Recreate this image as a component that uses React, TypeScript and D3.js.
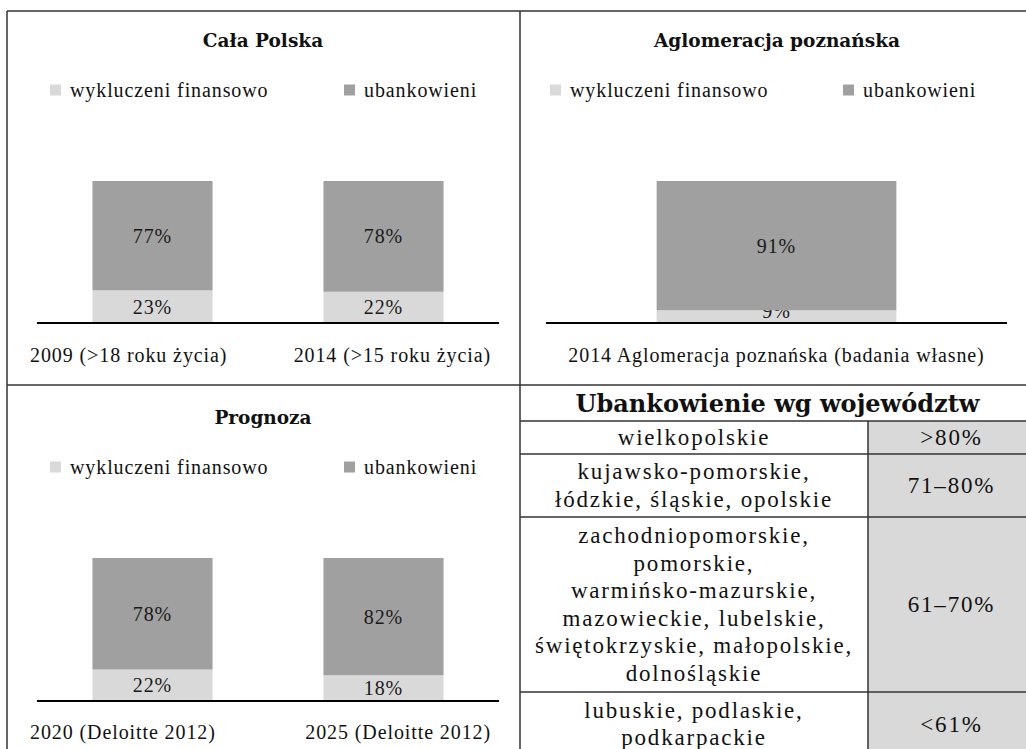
import * as d3 from 'd3'

// series
const seriesNames = ['wykluczeni finansowo', 'ubankowieni']
const seriesColors = ['#d9d9d9', '#a0a0a0']

// Cała Polska
const polskaCategories = ['2009 (>18 roku życia)', '2014 (>15 roku życia)']
const polskaExcluded = [23, 22]
const polskaBanked = [77, 78]

// Aglomeracja poznańska
const poznanCategories = ['2014 Aglomeracja poznańska (badania własne)']
const poznanExcluded = [9]
const poznanBanked = [91]

// Prognoza
const prognozaCategories = ['2020 (Deloitte 2012)', '2025 (Deloitte 2012)']
const prognozaExcluded = [22, 18]
const prognozaBanked = [78, 82]

// table
const tableTitle = 'Ubankowienie wg województw'
const regionLines = [
  ['wielkopolskie'],
  ['kujawsko-pomorskie,', 'łódzkie, śląskie, opolskie'],
  ['zachodniopomorskie,', 'pomorskie,', 'warmińsko-mazurskie,', 'mazowieckie, lubelskie,', 'świętokrzyskie, małopolskie,', 'dolnośląskie'],
  ['lubuskie, podlaskie,', 'podkarpackie'],
]
const regionRanges = ['>80%', '71–80%', '61–70%', '<61%']

const FONT = '"Liberation Serif", serif'
const FONT_BOLD = '"DejaVu Serif", serif'
const W = 1026
const H = 749

interface PanelProps {
  title: string
  categories: string[]
  excluded: number[]
  banked: number[]
  cx: number
  titleY: number
  legendY: number
  legend: [number, number]
  top: number
  base: number
  axis: [number, number]
  labelY: number
}

const txt = { fontFamily: FONT, fontSize: 20, letterSpacing: 0.9, fill: '#111' }

function BarPanel(p: PanelProps) {
  const x = d3.scaleBand<string>()
    .domain(p.categories)
    .range(p.axis)
    .paddingInner(0.48)
    .paddingOuter(0.24)
  const y = d3.scaleLinear().domain([0, 100]).range([p.base, p.top])

  const rows = p.categories.map((c, i) => ({ cat: c, excluded: p.excluded[i], banked: p.banked[i] }))
  const stack = d3.stack<any>().keys(['excluded', 'banked'])(rows)

  const n = p.categories.length
  return (
    <g>
      <text x={p.cx} y={p.titleY} textAnchor="middle" dominantBaseline="central"
        fontFamily={FONT_BOLD} fontWeight="bold" fontSize={18.5} fill="#111">{p.title}</text>
      {seriesNames.map((s, i) => (
        <g key={s} transform={`translate(${p.legend[i]},${p.legendY})`}>
          <rect x={0} y={-5.5} width={11} height={11} fill={seriesColors[i]} />
          <text x={20} y={0} dominantBaseline="central" {...txt}>{s}</text>
        </g>
      ))}
      {stack.map((layer, li) => (
        <g key={layer.key}>
          {layer.map((d, i) => {
            const x0 = x(d.data.cat) as number
            const y0 = y(d[0])
            const y1 = y(d[1])
            const cy = Math.min((y0 + y1) / 2, p.base - 12)
            return (
              <g key={i}>
                <rect x={x0} y={y1} width={x.bandwidth()} height={y0 - y1} fill={seriesColors[li]} />
                <text x={x0 + x.bandwidth() / 2} y={cy} textAnchor="middle" dominantBaseline="central"
                  {...txt} fill="#1a1a1a">{`${d[1] - d[0]}%`}</text>
              </g>
            )
          })}
        </g>
      ))}
      <line x1={p.axis[0]} x2={p.axis[1]} y1={p.base} y2={p.base} stroke="#000" strokeWidth={2.2} />
      {p.categories.map((c, i) => {
        let anchor = 'middle'
        let tx = (x(c) as number) + x.bandwidth() / 2
        if (n > 1 && i === 0) { anchor = 'start'; tx = p.axis[0] - 7 }
        if (n > 1 && i === n - 1) { anchor = 'end'; tx = p.axis[1] - 8 }
        return (
          <text key={c} x={tx} y={p.labelY} textAnchor={anchor} dominantBaseline="central" {...txt}>{c}</text>
        )
      })}
    </g>
  )
}

function RegionTable() {
  const left = 520
  const mid = 868
  const right = 1035
  const rowEdges = [421, 454, 517, 692, 762]
  const lineH = 27.6
  const cell = { fontFamily: FONT, fontSize: 23, letterSpacing: 1.8, fill: '#111' }
  return (
    <g>
      <rect x={mid} y={rowEdges[0]} width={right - mid} height={rowEdges[4] - rowEdges[0]} fill="#d9d9d9" />
      <text x={(left + right) / 2} y={403} textAnchor="middle" dominantBaseline="central"
        fontFamily={FONT_BOLD} fontWeight="bold" fontSize={24} fill="#111">{tableTitle}</text>
      {regionLines.map((lines, i) => {
        const cy = i === 3 ? 724 : (rowEdges[i] + rowEdges[i + 1]) / 2
        return (
          <g key={i}>
            {lines.map((l, j) => (
              <text key={j} x={(left + mid) / 2} y={cy + (j - (lines.length - 1) / 2) * lineH}
                textAnchor="middle" dominantBaseline="central" {...cell}>{l}</text>
            ))}
            <text x={(mid + right) / 2} y={cy} textAnchor="middle" dominantBaseline="central" {...cell}>{regionRanges[i]}</text>
          </g>
        )
      })}
      {rowEdges.slice(0, 4).map(e => (
        <line key={e} x1={left} x2={W} y1={e} y2={e} stroke="#333" strokeWidth={1.5} />
      ))}
      <line x1={mid} x2={mid} y1={rowEdges[0]} y2={H} stroke="#333" strokeWidth={1.5} />
    </g>
  )
}

export default function App() {
  return (
    <svg width={W} height={H} style={{ position: 'absolute', left: 0, top: 0, background: '#fff' }}>
      <rect width={W} height={H} fill="#fff" />
      <BarPanel title="Cała Polska" categories={polskaCategories} excluded={polskaExcluded} banked={polskaBanked}
        cx={263} titleY={40} legendY={90} legend={[50, 344]} top={181} base={323} axis={[37, 499]} labelY={355} />
      <BarPanel title="Aglomeracja poznańska" categories={poznanCategories} excluded={poznanExcluded} banked={poznanBanked}
        cx={777} titleY={40} legendY={90} legend={[550, 843]} top={181} base={323} axis={[546, 1007]} labelY={355} />
      <BarPanel title="Prognoza" categories={prognozaCategories} excluded={prognozaExcluded} banked={prognozaBanked}
        cx={263} titleY={417} legendY={467} legend={[50, 344]} top={558} base={701} axis={[37, 499]} labelY={732} />
      <RegionTable />
      <line x1={7} x2={W} y1={11} y2={11} stroke="#333" strokeWidth={1.5} />
      <line x1={7} x2={7} y1={11} y2={H} stroke="#333" strokeWidth={1.5} />
      <line x1={520} x2={520} y1={11} y2={H} stroke="#333" strokeWidth={1.5} />
      <line x1={7} x2={W} y1={385} y2={385} stroke="#333" strokeWidth={1.5} />
    </svg>
  )
}
